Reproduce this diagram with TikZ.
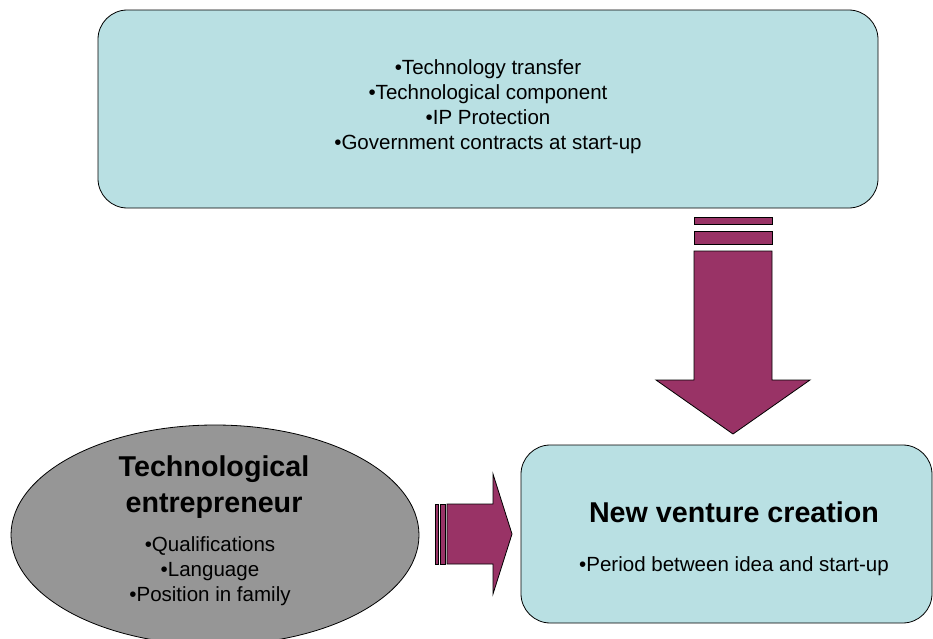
\documentclass[tikz,border=0pt]{standalone}
\usepackage{fontspec}
\setmainfont{Liberation Sans}
\definecolor{boxteal}{RGB}{185,224,227}
\definecolor{arrowplum}{RGB}{153,51,102}
\definecolor{ovalgray}{RGB}{150,150,150}
\tikzset{
	infobox/.style={draw=black,fill=boxteal,rounded corners=22pt,line width=0.6pt},
	blockarrow/.style={draw=black,fill=arrowplum,line width=0.6pt},
	itemtext/.style={align=center,font=\fontsize{15.4}{18.75}\selectfont},
	headtext/.style={align=center,font=\fontsize{21.5}{27}\selectfont\bfseries}
}
\begin{document}
\begin{tikzpicture}[x=0.75pt,y=-0.75pt]
	\useasboundingbox (0,0) rectangle (933,639);
	\clip (0,0) rectangle (933,639);
	
	\draw[infobox] (98,10) rectangle (878,208);
	\node[itemtext] (factors) at (488,107)
	{•Technology transfer\\ •Technological component\\ •IP Protection\\ •Government contracts at start-up};
	
	\draw[infobox] (521,445) rectangle (932,623);
	\node[headtext] (venture) at (734,512) {New venture creation};
	\node[itemtext] (period) at (734,566) {•Period between idea and start-up};
	
	\draw[draw=black,fill=ovalgray,line width=0.6pt] (215,535) ellipse (204 and 110);
	\node[headtext] (entre) at (214,487) {Technological\\ entrepreneur};
	\node[itemtext] (traits) at (210,571) {•Qualifications\\ •Language\\ •Position in family};
	
	% arrow from the top box down to the venture box
	\draw[blockarrow] (694,217) rectangle (772,224);
	\draw[blockarrow] (694,231) rectangle (772,244);
	\draw[blockarrow] (694,251) -- (772,251) -- (772,380) -- (810,380) -- (733,434)
		-- (656,380) -- (694,380) -- cycle;
	
	% arrow from the entrepreneur to the venture box
	\draw[blockarrow] (435,504) rectangle (438,564);
	\draw[blockarrow] (440,504) rectangle (445,564);
	\draw[blockarrow] (447,504) -- (493,504) -- (493,474) -- (512,534) -- (493,594)
		-- (493,564) -- (447,564) -- cycle;
	
\end{tikzpicture}
\end{document}
